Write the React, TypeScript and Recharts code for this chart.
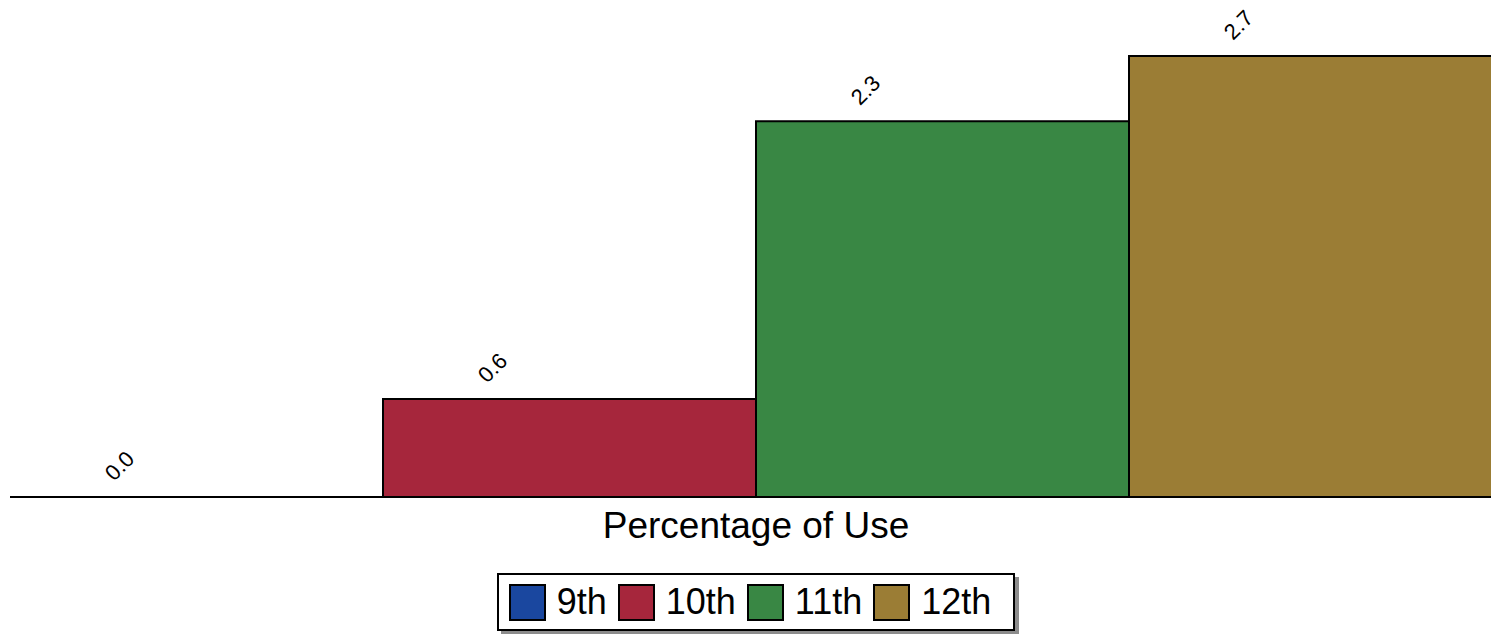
import { BarChart, Bar, XAxis, YAxis, Legend, Rectangle } from 'recharts'

const categories = ['Percentage of Use']
const grades = ['9th', '10th', '11th', '12th']
const values = [0.0, 0.6, 2.3, 2.7]
const colors = ['#1A479F', '#A6263C', '#398744', '#9B7D35']

const data = categories.map((name) => {
  const row: Record<string, string | number> = { name }
  grades.forEach((g, i) => {
    row[g] = values[i]
  })
  return row
})

const FONT = '"Liberation Sans", Arial, sans-serif'

// bar plus its rotated value label (drawn here so the 0.0 bar keeps its label)
const makeShape = (key: string) => (props: any) => {
  const { x, y, width, height, fill, payload } = props
  const lx = Number(x) + 104
  const ly = Number(y) - 15
  return (
    <g>
      {height > 0 && (
        <Rectangle x={x} y={y} width={width} height={height} fill={fill} stroke="#000" strokeWidth={2} />
      )}
      <text
        x={lx}
        y={ly}
        transform={`rotate(-45, ${lx}, ${ly})`}
        textAnchor="start"
        fontSize={22}
        fontFamily={FONT}
        fill="#000"
      >
        {Number(payload[key]).toFixed(1)}
      </text>
    </g>
  )
}

const renderTick = (props: any) => {
  const { x, y, payload } = props
  return (
    <text x={x} y={y + 33} textAnchor="middle" fontSize={37} fontFamily={FONT} fill="#000">
      {payload.value}
    </text>
  )
}

const renderLegend = () => (
  <div style={{ display: 'flex', justifyContent: 'center', height: 61 }}>
    <div
      style={{
        display: 'flex',
        alignItems: 'center',
        height: 58,
        boxSizing: 'border-box',
        border: '2px solid #000',
        boxShadow: '4px 4px 0 #8c8c8c',
        background: '#fff',
        padding: '0 10px',
        fontFamily: FONT,
        fontSize: 36,
      }}
    >
      {grades.map((g, i) => (
        <div key={g} style={{ display: 'flex', alignItems: 'center', marginRight: i < grades.length - 1 ? 11 : 12 }}>
          <span
            style={{
              width: 37,
              height: 37,
              boxSizing: 'border-box',
              border: '2px solid #000',
              background: colors[i],
              marginRight: 11,
              display: 'inline-block',
            }}
          />
          <span style={{ lineHeight: 1 }}>{g}</span>
        </div>
      ))}
    </div>
  </div>
)

export default function App() {
  return (
    <div style={{ position: 'fixed', left: 0, top: 0, width: 1491, height: 634, overflow: 'hidden', background: '#fff' }}>
      <BarChart
        width={1491}
        height={634}
        data={data}
        margin={{ top: 56, right: -11, left: 10, bottom: 0 }}
        barGap={0}
        barCategoryGap={0}
      >
        <XAxis
          dataKey="name"
          axisLine={{ stroke: '#000', strokeWidth: 2 }}
          tickLine={false}
          height={76}
          tick={renderTick}
        />
        <YAxis hide domain={[0, 2.7]} />
        <Legend verticalAlign="bottom" align="center" content={renderLegend} />
        {grades.map((g, i) => (
          <Bar key={g} dataKey={g} fill={colors[i]} shape={makeShape(g)} isAnimationActive={false} />
        ))}
      </BarChart>
    </div>
  )
}
